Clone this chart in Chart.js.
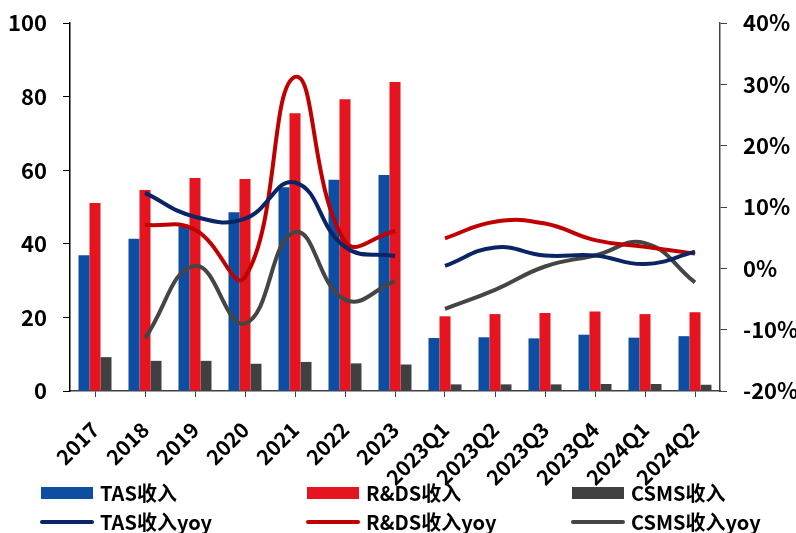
<!DOCTYPE html>
<html>
<head>
<meta charset="utf-8">
<script src="https://cdn.jsdelivr.net/npm/chart.js@4/dist/chart.umd.min.js"></script>
<style>
html, body { margin: 0; padding: 0; background: #fff; }
#wrap { width: 796px; height: 533px; }
</style>
</head>
<body>
<div id="wrap"><canvas id="revChart"></canvas></div>
<script>
// 数据（亿元 / %）
const labels = ['2017', '2018', '2019', '2020', '2021', '2022', '2023',
	'2023Q1', '2023Q2', '2023Q3', '2023Q4', '2024Q1', '2024Q2'];
const tasRevenue = [36.9, 41.4, 44.8, 48.6, 55.4, 57.4, 58.7, 14.4, 14.6, 14.3, 15.3, 14.5, 14.9];
const rdsRevenue = [51.1, 54.6, 57.9, 57.6, 75.5, 79.3, 84.0, 20.3, 20.9, 21.2, 21.6, 20.9, 21.4];
const csmsRevenue = [9.2, 8.2, 8.2, 7.4, 7.9, 7.5, 7.2, 1.8, 1.8, 1.8, 1.9, 1.9, 1.7];
const tasYoy = [null, 12.3, 8.4, 8.1, 14.0, 3.5, 2.0, 0.4, 3.4, 2.1, 2.1, 0.7, 2.7];
const rdsYoy = [null, 7.1, 6.3, -1.4, 31.2, 4.4, 6.1, 4.9, 7.6, 7.3, 4.6, 3.5, 2.4];
const csmsYoy = [null, -11.4, 0.4, -9.0, 5.9, -5.1, -2.1, -6.6, -3.5, 0.3, 2.1, 4.1, -2.3];
const leftRange = [0, 100, 20];
const rightRange = [-20, 40, 10];
const firstQuarter = 7; // 年度与季度之间断开

const FONT = '"Noto Sans CJK SC", "Liberation Sans", sans-serif';

// 年度段 / 季度段分开画，曲线不跨越
function part(arr, quarterly) {
	return arr.map((v, i) => ((i >= firstQuarter) === quarterly ? v : null));
}

function lineSet(label, data, color, quarterly) {
	return {
		type: 'line',
		label,
		data: part(data, quarterly),
		yAxisID: 'y1',
		borderColor: color,
		backgroundColor: color,
		borderWidth: 4,
		pointRadius: 0,
		tension: 0.45,
		spanGaps: false,
		order: 0,
		legendItem: !quarterly,
	};
}

function barSet(label, data, color) {
	return {
		type: 'bar',
		label,
		data,
		yAxisID: 'y',
		backgroundColor: color,
		categoryPercentage: 0.66,
		barPercentage: 1,
		order: 1,
		legendItem: true,
	};
}

// 图例：两行三列
const gridLegend = {
	id: 'gridLegend',
	afterDraw(chart) {
		const ctx = chart.ctx;
		const items = chart.data.datasets.filter((d) => d.legendItem);
		const colX = [41, 307, 572];
		const rowY = [493, 522];
		ctx.save();
		ctx.font = 'bold 20px ' + FONT;
		ctx.textBaseline = 'middle';
		ctx.fillStyle = '#000';
		items.forEach((d, i) => {
			const x = colX[i % 3];
			const y = rowY[Math.floor(i / 3)];
			if (d.type === 'bar') {
				ctx.fillStyle = d.backgroundColor;
				ctx.fillRect(x, y - 6, 52, 12);
			} else {
				ctx.strokeStyle = d.borderColor;
				ctx.lineWidth = 4;
				ctx.lineCap = 'round';
				ctx.beginPath();
				ctx.moveTo(x + 1, y);
				ctx.lineTo(x + 51, y);
				ctx.stroke();
			}
			ctx.fillStyle = '#000';
			ctx.fillText(d.label, x + 59, y);
		});
		ctx.restore();
	},
};

// 纵轴不额外占用上下边距
function fixY(width) {
	return (scale) => {
		scale.width = width;
		scale.paddingTop = 0;
		scale.paddingBottom = 0;
	};
}

const ctx = document.getElementById('revChart').getContext('2d');
new Chart(ctx, {
	data: {
		labels,
		datasets: [
			barSet('TAS收入', tasRevenue, '#0d4ea3'),
			barSet('R&DS收入', rdsRevenue, '#e5141f'),
			barSet('CSMS收入', csmsRevenue, '#404040'),
			lineSet('TAS收入yoy', tasYoy, '#0b2466', false),
			lineSet('R&DS收入yoy', rdsYoy, '#c00000', false),
			lineSet('CSMS收入yoy', csmsYoy, '#454545', false),
			lineSet('TAS收入yoy', tasYoy, '#0b2466', true),
			lineSet('R&DS收入yoy', rdsYoy, '#c00000', true),
			lineSet('CSMS收入yoy', csmsYoy, '#454545', true),
		],
	},
	options: {
		responsive: true,
		maintainAspectRatio: false,
		animation: false,
		layout: { padding: { top: 23, bottom: 0, left: 0, right: 0 } },
		plugins: {
			legend: { display: false },
			tooltip: { enabled: false },
		},
		scales: {
			x: {
				offset: true,
				grid: {
					offset: false,
					drawOnChartArea: false,
					drawTicks: true,
					tickLength: 6,
					color: '#404040',
				},
				border: { color: '#404040', width: 1.5 },
				ticks: {
					color: '#000',
					font: { family: FONT, size: 21, weight: 'bold' },
					minRotation: 45,
					maxRotation: 45,
					padding: 20,
					autoSkip: false,
				},
				afterFit(scale) {
					scale.height = 142;
				},
			},
			y: {
				position: 'left',
				min: leftRange[0],
				max: leftRange[1],
				grid: {
					drawOnChartArea: false,
					drawTicks: true,
					tickLength: 7,
					color: '#000',
				},
				border: { color: '#000', width: 1.5 },
				ticks: {
					stepSize: leftRange[2],
					color: '#000',
					padding: 16,
					font: { family: FONT, size: 22, weight: 'bold' },
				},
				afterFit: fixY(70),
			},
			y1: {
				position: 'right',
				min: rightRange[0],
				max: rightRange[1],
				grid: {
					drawOnChartArea: false,
					drawTicks: true,
					tickLength: 7,
					color: '#404040',
				},
				border: { color: '#404040', width: 1.5 },
				ticks: {
					stepSize: rightRange[2],
					color: '#000',
					padding: 16,
					font: { family: FONT, size: 22, weight: 'bold' },
					callback: (v) => v + '%',
				},
				afterFit: fixY(76),
			},
		},
	},
	plugins: [gridLegend],
});
</script>
</body>
</html>
